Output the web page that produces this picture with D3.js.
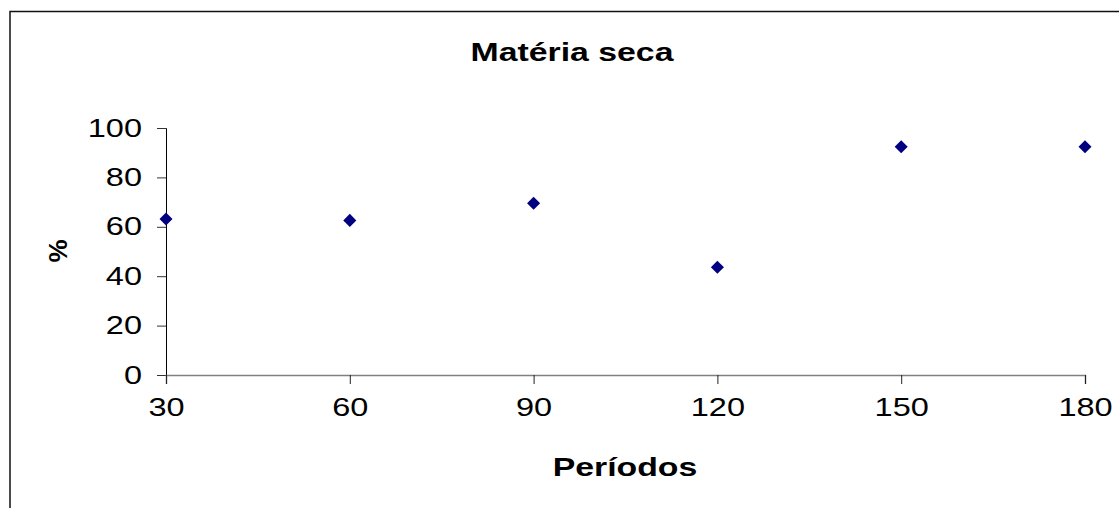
<!DOCTYPE html>
<html>
<head>
<meta charset="utf-8">
<script src="https://cdn.jsdelivr.net/npm/d3@7"></script>
<style>
  body { margin: 0; background: #fff; }
  svg { display: block; font-family: "Liberation Sans", Arial, sans-serif; }
</style>
</head>
<body>
<svg id="chart"></svg>
<script>
// chart values
const periods = [30, 60, 90, 120, 150, 180];
const drySeries = [63.2, 62.6, 69.5, 43.6, 92.4, 92.4];
const xTicks = [30, 60, 90, 120, 150, 180];
const yTicks = [0, 20, 40, 60, 80, 100];

const width = 1119, height = 508;
const stretch = 1.3; // the original picture is stretched sideways

const svg = d3.select("#chart")
    .attr("width", width)
    .attr("height", height);

// outer chart border (runs off the right and bottom of the picture)
svg.append("rect")
    .attr("x", 10)
    .attr("y", 11.5)
    .attr("width", 1130)
    .attr("height", 520)
    .attr("fill", "none")
    .attr("stroke", "#111")
    .attr("stroke-width", 1.5);

const xScale = d3.scaleLinear().domain([30, 180]).range([166, 1085]);
const yScale = d3.scaleLinear().domain([0, 100]).range([375, 128]);

// y axis
const yAxis = svg.append("g")
    .attr("transform", `translate(${xScale(30)},0)`)
    .call(d3.axisLeft(yScale).tickValues(yTicks).tickSize(9).tickPadding(15));
yAxis.select(".domain").attr("stroke", "#000");
yAxis.selectAll(".tick line").attr("stroke", "#333");
yAxis.selectAll(".tick text")
    .attr("font-size", 25)
    .attr("fill", "#000");

// x axis
const xAxis = svg.append("g")
    .attr("transform", `translate(0,${yScale(0)})`)
    .call(d3.axisBottom(xScale).tickValues(xTicks).tickSize(9).tickPadding(14));
xAxis.select(".domain").attr("stroke", "#808080").attr("stroke-width", 1.5);
xAxis.selectAll(".tick line").attr("stroke", "#222");
xAxis.selectAll(".tick text")
    .attr("font-size", 25)
    .attr("fill", "#000");

// title
svg.append("text")
    .attr("x", 572)
    .attr("y", 61)
    .attr("text-anchor", "middle")
    .attr("font-size", 26)
    .attr("font-weight", "bold")
    .text("Matéria seca");

// axis titles
svg.append("text")
    .attr("x", 625)
    .attr("y", 476)
    .attr("text-anchor", "middle")
    .attr("font-size", 26)
    .attr("font-weight", "bold")
    .text("Períodos");

svg.append("text")
    .attr("transform", "translate(67,251) rotate(-90)")
    .attr("text-anchor", "middle")
    .attr("font-size", 26)
    .attr("font-weight", "bold")
    .text("%");

// points (diamonds)
svg.selectAll(".pt")
    .data(periods)
    .enter()
    .append("path")
    .attr("class", "pt")
    .attr("d", d3.symbol(d3.symbolSquare, 85))
    .attr("transform", (d, i) => `translate(${xScale(d)},${yScale(drySeries[i])}) rotate(45)`)
    .attr("fill", "#000080");

// widen all horizontal text to match the stretched original
svg.selectAll("text").each(function() {
    const el = d3.select(this);
    if ((el.attr("transform") || "").includes("rotate")) return;
    const w = this.getComputedTextLength();
    el.attr("textLength", w * stretch).attr("lengthAdjust", "spacingAndGlyphs");
});
</script>
</body>
</html>
